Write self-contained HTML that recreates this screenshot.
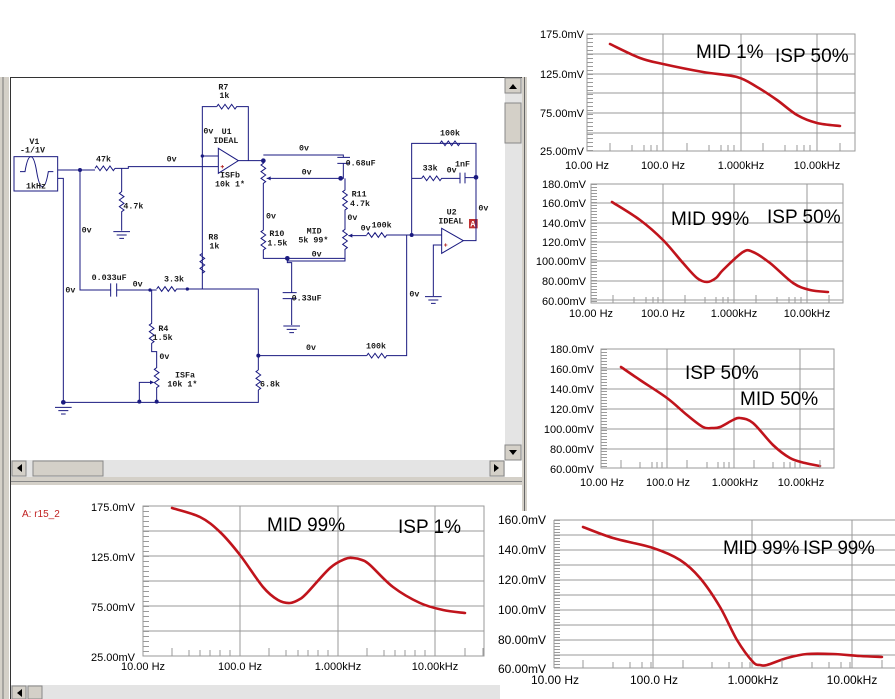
<!DOCTYPE html>
<html><head><meta charset="utf-8"><style>
html,body{margin:0;padding:0;background:#fff;}
svg{display:block;}
.sch text{font-family:"Liberation Mono",monospace;font-size:25px;font-weight:bold;fill:#1a1a1a;}
.w{stroke:#1a1a80;stroke-width:3;fill:none;}
.ch text{font-family:"Liberation Sans",sans-serif;font-size:11px;fill:#000;}
.big{font-size:19px !important;}
.g{stroke:#9a9a9a;stroke-width:1;fill:none;}
.cv{stroke:#c0141c;stroke-width:2.6;fill:none;stroke-linejoin:round;stroke-linecap:round;}
</style></head><body>
<svg width="895" height="699" viewBox="0 0 895 699" xmlns="http://www.w3.org/2000/svg">
<rect width="895" height="699" fill="#fff"/>
<rect x="0" y="77" width="9" height="622" fill="#d4d0c8"/>
<line x1="3" y1="77" x2="3" y2="699" stroke="#777"/>
<line x1="10.5" y1="77" x2="10.5" y2="699" stroke="#333"/>
<line x1="10" y1="77.5" x2="524" y2="77.5" stroke="#333"/>
<rect x="505" y="78" width="17" height="382" fill="#e4e4e4"/>
<rect x="505" y="78" width="16" height="15" fill="#d4d0c8" stroke="#888"/>
<path d="M509,89 l4,-5 l4,5z" fill="#000"/>
<rect x="505" y="103" width="16" height="40" fill="#d4d0c8" stroke="#888"/>
<rect x="505" y="445" width="16" height="15" fill="#d4d0c8" stroke="#888"/>
<path d="M509,450 l4,5 l4,-5z" fill="#000"/>
<rect x="522" y="77" width="5" height="436" fill="#d4d0c8"/>
<line x1="524.5" y1="77" x2="524.5" y2="513" stroke="#666"/>
<rect x="11" y="460" width="494" height="17" fill="#e4e4e4"/>
<rect x="12" y="461" width="14" height="15" fill="#d4d0c8" stroke="#888"/>
<path d="M22,464 l-5,4 l5,4z" fill="#000"/>
<rect x="33" y="461" width="70" height="15" fill="#d4d0c8" stroke="#888"/>
<rect x="490" y="461" width="14" height="15" fill="#d4d0c8" stroke="#888"/>
<path d="M494,464 l5,4 l-5,4z" fill="#000"/>
<rect x="11" y="477" width="511" height="8" fill="#d4d0c8"/>
<line x1="11" y1="481.5" x2="522" y2="481.5" stroke="#888"/>
<rect x="11" y="685" width="490" height="14" fill="#e4e4e4"/>
<rect x="12" y="686" width="14" height="13" fill="#d4d0c8" stroke="#888"/>
<path d="M22,689 l-5,4 l5,4z" fill="#000"/>
<rect x="28" y="686" width="14" height="13" fill="#d4d0c8" stroke="#888"/>

<g class="sch" transform="translate(0,70) scale(0.33333)">
<rect x="42" y="260" width="131" height="103" class="w"/>
<path class="w" d="M60,305 h15 c10,-60 25,-60 35,0 c10,60 25,60 35,0 h15"/>
<text x="88" y="222">V1</text><text x="60" y="248">-1/1V</text><text x="78" y="355">1kHz</text>
<path class="w" d="M173,300 H285"/>
<path class="w" d="M285,295 l5,-7 l10,14 l10,-14 l10,14 l10,-14 l10,14 l5,-7"/>
<path class="w" d="M345,295 H385 V290 H655"/>
<path class="w" d="M365,295 V365 l-7,5 l14,10 l-14,10 l14,10 l-14,10 l14,10 l-7,5 V482"/>
<path class="w" d="M340,485 h50 M350,495 h30 M358,505 h14"/>
<text x="370" y="415">4.7k</text><text x="288" y="275">47k</text><text x="500" y="275">0v</text>
<path class="w" d="M240,300 V660 H332 M350,660 H450"/>
<path class="w" d="M332,640 v40 M350,640 v40"/>
<text x="245" y="488">0v</text><text x="275" y="630">0.033uF</text><text x="398" y="650">0v</text>
<path class="w" d="M450,660 H470"/>
<path class="w" d="M470,657 l5,-7 l10,14 l10,-14 l10,14 l10,-14 l10,14 l5,-7 H775 V900"/>
<text x="492" y="635">3.3k</text>
<path class="w" d="M173,325 H190 V997 H775 V960"/>
<path class="w" d="M165,1012 h50 M175,1022 h30 M183,1032 h14"/>
<text x="196" y="668">0v</text>
<path class="w" d="M607,657 V550 l-7,5 l14,10 l-14,10 l14,10 l-14,10 l14,10 l-7,5 V110 H650"/>
<path class="w" d="M650,110 l5,-7 l10,14 l10,-14 l10,14 l10,-14 l10,14 l5,-7 H745 V272"/>
<text x="625" y="508">R8</text><text x="628" y="535">1k</text>
<text x="655" y="58">R7</text><text x="658" y="84">1k</text>
<path class="w" d="M607,258 H655"/>
<path class="w" d="M655,235 L715,272 L655,310 Z"/>
<text x="610" y="190">0v</text><text x="665" y="192">U1</text><text x="640" y="219">IDEAL</text>
<text x="660" y="322">ISFb</text><text x="645" y="350">10k 1*</text>
<path d="M662,290 h10 M667,285 v10" stroke="#b02020" stroke-width="2.5"/>
<path class="w" d="M715,272 H790 V280 l-7,5 l14,10 l-14,10 l14,10 l-14,10 l14,10 l-7,5 V480 l-7,5 l14,10 l-14,10 l14,10 l-14,10 l14,10 l-7,5 V565 H1035"/>
<path class="w" d="M790,255 H1030 V262 M1012,262 h38 M1012,280 h38 M1030,280 V325 H800"/>
<path d="M800,325 l12,-6 v12z" fill="#1a1a80"/>
<text x="897" y="242">0v</text><text x="1037" y="287">0.68uF</text><text x="905" y="313">0v</text>
<path class="w" d="M1035,325 V360 l-7,5 l14,10 l-14,10 l14,10 l-14,10 l14,10 l-7,5 V478 l-7,5 l14,10 l-14,10 l14,10 l-14,10 l14,10 l-7,5 V573 H862"/>
<text x="1055" y="380">R11</text><text x="1050" y="408">4.7k</text><text x="1042" y="450">0v</text>
<text x="798" y="445">0v</text><text x="808" y="498">R10</text><text x="802" y="527">1.5k</text>
<text x="920" y="490">MID</text><text x="895" y="518">5k 99*</text><text x="935" y="560">0v</text>
<path class="w" d="M1045,497 H1100"/>
<path d="M1045,497 l12,-6 v12z" fill="#1a1a80"/>
<path class="w" d="M1100,495 l5,-7 l10,14 l10,-14 l10,14 l10,-14 l10,14 l5,-7 H1325"/>
<text x="1082" y="482">0v</text><text x="1115" y="472">100k</text>
<path class="w" d="M862,565 V578 H875 V668 M848,668 h42 M848,686 h42 M875,686 V765"/>
<path class="w" d="M850,768 h50 M860,778 h30 M868,788 h14"/>
<text x="875" y="692">0.33uF</text>
<path class="w" d="M450,660 H455 V760 l-7,5 l14,10 l-14,10 l14,10 l-14,10 l14,10 l-7,5 V845 H470 V893 l-7,5 l14,10 l-14,10 l14,10 l-14,10 l14,10 l-7,5 V997"/>
<path class="w" d="M460,937 H418 V997"/>
<path d="M462,937 l-12,-6 v12z" fill="#1a1a80"/>
<text x="475" y="783">R4</text><text x="458" y="810">1.5k</text><text x="478" y="867">0v</text>
<text x="525" y="922">ISFa</text><text x="502" y="950">10k 1*</text>
<path class="w" d="M775,900 l-7,5 l14,10 l-14,10 l14,10 l-14,10 l14,10 l-7,5"/>
<text x="780" y="950">6.8k</text>
<path class="w" d="M775,857 H1100"/>
<path class="w" d="M1100,857 l5,-7 l10,14 l10,-14 l10,14 l10,-14 l10,14 l5,-7 H1220 V495"/>
<text x="918" y="840">0v</text><text x="1098" y="835">100k</text><text x="1228" y="680">0v</text>
<path class="w" d="M1325,475 L1390,512 L1325,550 Z"/>
<path d="M1332,525 h10 M1337,520 v10" stroke="#b02020" stroke-width="2.5"/>
<path class="w" d="M1325,525 H1300 V678 M1275,680 h50 M1285,690 h30 M1293,700 h14"/>
<text x="1340" y="433">U2</text><text x="1315" y="460">IDEAL</text>
<rect x="1407" y="447" width="26" height="28" fill="#c03030"/>
<text x="1411" y="470" style="fill:#fff">A</text>
<path class="w" d="M1390,512 H1428 V220 H1320"/>
<path class="w" d="M1320,220 l5,-7 l10,14 l10,-14 l10,14 l10,-14 l10,14 l5,-7"/>
<path class="w" d="M1320,220 H1235 V495 M1235,325 H1265"/>
<path class="w" d="M1265,325 l5,-7 l10,14 l10,-14 l10,14 l10,-14 l10,14 l5,-7 H1380 M1380,308 v32 M1395,308 v32 M1395,323 H1428"/>
<text x="1320" y="196">100k</text><text x="1268" y="302">33k</text><text x="1340" y="308">0v</text><text x="1365" y="290">1nF</text>
<text x="1435" y="422">0v</text>
<g fill="#1a1a80">
<circle cx="240" cy="300" r="6"/><circle cx="607" cy="258" r="5"/><circle cx="790" cy="272" r="7"/><circle cx="1022" cy="325" r="7"/>
<circle cx="862" cy="565" r="7"/><circle cx="450" cy="660" r="5"/><circle cx="562" cy="657" r="5"/><circle cx="775" cy="857" r="6"/>
<circle cx="190" cy="997" r="7"/><circle cx="418" cy="995" r="6"/><circle cx="470" cy="995" r="6"/><circle cx="1235" cy="495" r="6"/><circle cx="1428" cy="322" r="7"/>
</g>
</g>

<g class="ch">
<rect x="587" y="34" width="268" height="117" class="g"/>
<path class="g" d="M587,54H855M587,74H855M587,93H855M587,113H855M587,133H855M663,34V151M741,34V151M817,34V151"/>
<line x1="590" y1="34" x2="590" y2="151" stroke="#9a9a9a" stroke-width="6" stroke-dasharray="1 3"/>
<text x="584" y="38" text-anchor="end">175.0mV</text><text x="584" y="78" text-anchor="end">125.0mV</text>
<text x="584" y="117" text-anchor="end">75.00mV</text><text x="584" y="155" text-anchor="end">25.00mV</text>
<text x="587" y="169" text-anchor="middle">10.00 Hz</text><text x="663" y="169" text-anchor="middle">100.0 Hz</text>
<text x="741" y="169" text-anchor="middle">1.000kHz</text><text x="817" y="169" text-anchor="middle">10.00kHz</text>
<text x="696" y="58" class="big">MID 1%</text><text x="775" y="62" class="big">ISP 50%</text>
<polyline class="cv" points="610,44 640,58 663,64 703,72 737,77 757,87 777,100 797,115 817,123 840,126"/>
</g>
<g class="ch">
<rect x="591" y="184" width="252" height="119" class="g"/>
<path class="g" d="M591,203H843M591,223H843M591,242H843M591,261H843M591,281H843M591,300H843M663,184V303M734,184V303M807,184V303"/>
<line x1="594" y1="184" x2="594" y2="303" stroke="#9a9a9a" stroke-width="6" stroke-dasharray="1 2"/>
<text x="586" y="188" text-anchor="end">180.0mV</text><text x="586" y="207" text-anchor="end">160.0mV</text>
<text x="586" y="227" text-anchor="end">140.0mV</text><text x="586" y="246" text-anchor="end">120.0mV</text>
<text x="586" y="265" text-anchor="end">100.00mV</text><text x="586" y="285" text-anchor="end">80.00mV</text>
<text x="586" y="305" text-anchor="end">60.00mV</text>
<text x="591" y="317" text-anchor="middle">10.00 Hz</text><text x="663" y="317" text-anchor="middle">100.0 Hz</text>
<text x="734" y="317" text-anchor="middle">1.000kHz</text><text x="807" y="317" text-anchor="middle">10.00kHz</text>
<text x="671" y="225" class="big">MID 99%</text><text x="767" y="223" class="big">ISP 50%</text>
<polyline class="cv" points="612,202 640,220 663,240 683,263 697,278 707,282 716,278 723,270 743,252 753,252 770,263 793,283 810,290 828,292"/>
</g>
<g class="ch">
<rect x="601" y="349" width="233" height="119" class="g"/>
<path class="g" d="M601,369H834M601,389H834M601,409H834M601,429H834M601,449H834M667,349V468M734,349V468M800,349V468"/>
<line x1="604" y1="349" x2="604" y2="468" stroke="#9a9a9a" stroke-width="6" stroke-dasharray="1 2"/>
<text x="594" y="353" text-anchor="end">180.0mV</text><text x="594" y="373" text-anchor="end">160.0mV</text>
<text x="594" y="393" text-anchor="end">140.0mV</text><text x="594" y="413" text-anchor="end">120.0mV</text>
<text x="594" y="433" text-anchor="end">100.00mV</text><text x="594" y="453" text-anchor="end">80.00mV</text>
<text x="594" y="473" text-anchor="end">60.00mV</text>
<text x="602" y="486" text-anchor="middle">10.00 Hz</text><text x="668" y="486" text-anchor="middle">100.0 Hz</text>
<text x="735" y="486" text-anchor="middle">1.000kHz</text><text x="801" y="486" text-anchor="middle">10.00kHz</text>
<text x="685" y="379" class="big">ISP 50%</text><text x="740" y="405" class="big">MID 50%</text>
<polyline class="cv" points="621,367 640,380 667,398 687,415 703,427 712,428 720,427 733,420 740,418 753,423 773,445 790,458 805,463 820,466"/>
</g>
<rect x="500" y="511" width="395" height="188" fill="#fff"/>
<g class="ch">
<path class="g" d="M554,520H895M554,535H895M554,550H895M554,565H895M554,580H895M554,595H895M554,610H895M554,625H895M554,640H895M554,655H895M554,668H895M554,520V668M653,520V668M752,520V668M852,520V668"/>
<line x1="557" y1="520" x2="557" y2="668" stroke="#9a9a9a" stroke-width="6" stroke-dasharray="1 2"/>
<text x="546" y="524" text-anchor="end" style="font-size:12px">160.0mV</text><text x="546" y="554" text-anchor="end" style="font-size:12px">140.0mV</text>
<text x="546" y="584" text-anchor="end" style="font-size:12px">120.0mV</text><text x="546" y="614" text-anchor="end" style="font-size:12px">100.0mV</text>
<text x="546" y="644" text-anchor="end" style="font-size:12px">80.00mV</text><text x="546" y="673" text-anchor="end" style="font-size:12px">60.00mV</text>
<text x="555" y="684" text-anchor="middle" style="font-size:12px">10.00 Hz</text><text x="654" y="684" text-anchor="middle" style="font-size:12px">100.0 Hz</text>
<text x="753" y="684" text-anchor="middle" style="font-size:12px">1.000kHz</text><text x="852" y="684" text-anchor="middle" style="font-size:12px">10.00kHz</text>
<text x="723" y="554" class="big" style="letter-spacing:-0.3px">MID 99%</text><text x="803" y="554" class="big" style="letter-spacing:-0.3px">ISP 99%</text>
<polyline class="cv" points="583,527 613,538 653,548 680,560 700,578 720,607 737,640 753,662 760,665 767,665 787,658 807,654 833,654 860,656 882,657"/>
</g>
<g class="ch">
<text x="22" y="517" style="font-size:10px;fill:#c02020">A: r15_2</text>
<rect x="143" y="506" width="341" height="150" class="g"/>
<path class="g" d="M143,531H484M143,556H484M143,581H484M143,606H484M143,631H484M240,506V656M338,506V656M435,506V656"/>
<line x1="146" y1="506" x2="146" y2="656" stroke="#9a9a9a" stroke-width="6" stroke-dasharray="1 4"/>
<text x="135" y="511" text-anchor="end">175.0mV</text><text x="135" y="561" text-anchor="end">125.0mV</text>
<text x="135" y="611" text-anchor="end">75.00mV</text><text x="135" y="661" text-anchor="end">25.00mV</text>
<text x="143" y="670" text-anchor="middle">10.00 Hz</text><text x="240" y="670" text-anchor="middle">100.0 Hz</text>
<text x="338" y="670" text-anchor="middle">1.000kHz</text><text x="435" y="670" text-anchor="middle">10.00kHz</text>
<text x="267" y="531" class="big">MID 99%</text><text x="398" y="533" class="big">ISP 1%</text>
<polyline class="cv" points="172,508 200,517 220,532 240,555 263,587 278,600 290,603 300,599 307,593 330,568 345,559 353,558 362,560 370,565 393,587 420,603 443,610 465,613"/>
</g>
<g stroke="#9a9a9a" stroke-width="1">
<path d="M610,151v-8M632,151v-6M644,151v-6M651,151v-6M657,151v-6M687,151v-8M709,151v-6M721,151v-6M728,151v-6M734,151v-6M763,151v-8M785,151v-6M797,151v-6M804,151v-6M810,151v-6M840,151v-8M855,151v-8"/>
<path d="M613,303v-8M634,303v-6M646,303v-6M653,303v-6M658,303v-6M685,303v-8M705,303v-6M716,303v-6M723,303v-6M728,303v-6M756,303v-8M777,303v-6M789,303v-6M795,303v-6M801,303v-6M829,303v-8M843,303v-8"/>
<path d="M621,468v-8M640,468v-6M652,468v-6M657,468v-6M662,468v-6M687,468v-8M707,468v-6M718,468v-6M724,468v-6M729,468v-6M754,468v-8M773,468v-6M784,468v-6M790,468v-6M795,468v-6M820,468v-8M834,468v-8"/>
<path d="M583,668v-8M613,668v-6M630,668v-6M642,668v-6M651,668v-6M683,668v-8M712,668v-6M729,668v-6M742,668v-6M750,668v-6M782,668v-8M812,668v-6M829,668v-6M841,668v-6M850,668v-6M882,668v-8"/>
<path d="M172,656v-8M189,656v-6M200,656v-6M210,656v-6M220,656v-6M230,656v-6M269,656v-8M286,656v-6M298,656v-6M308,656v-6M318,656v-6M328,656v-6M367,656v-8M384,656v-6M395,656v-6M405,656v-6M415,656v-6M425,656v-6M465,656v-8M483,656v-8"/>
</g>
</svg>
<script>
document.querySelectorAll('polyline.cv').forEach(function(pl){
  var p=pl.getAttribute('points').trim().split(/\s+/).map(function(s){return s.split(',').map(Number);});
  var d='M'+p[0][0]+','+p[0][1];
  for(var i=0;i<p.length-1;i++){
    var p0=p[i-1]||p[i],p1=p[i],p2=p[i+1],p3=p[i+2]||p2;
    var c1x=p1[0]+(p2[0]-p0[0])/6,c1y=p1[1]+(p2[1]-p0[1])/6;
    var c2x=p2[0]-(p3[0]-p1[0])/6,c2y=p2[1]-(p3[1]-p1[1])/6;
    d+=' C'+c1x+','+c1y+' '+c2x+','+c2y+' '+p2[0]+','+p2[1];
  }
  var path=document.createElementNS('http://www.w3.org/2000/svg','path');
  path.setAttribute('d',d);path.setAttribute('class','cv');
  pl.parentNode.replaceChild(path,pl);
});
</script>
</body></html>
